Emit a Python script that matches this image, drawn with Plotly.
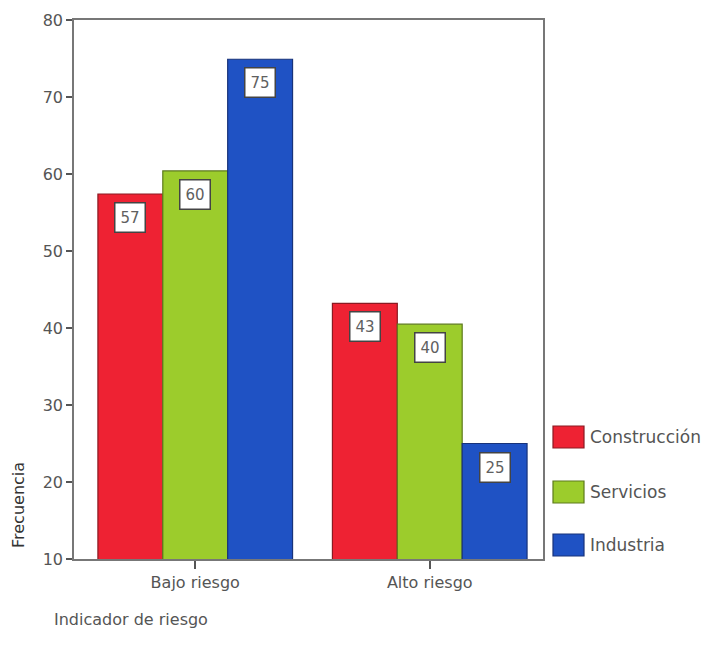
import plotly.graph_objects as go

categories = ["Bajo riesgo", "Alto riesgo"]
series_names = ["Construcción", "Servicios", "Industria"]
construccion = [57.4, 43.2]
servicios = [60.4, 40.5]
industria = [74.9, 25.0]
labels = [[57, 43], [60, 40], [75, 25]]
y_ticks = [10, 20, 30, 40, 50, 60, 70, 80]

values = [construccion, servicios, industria]
fills = ["#ee2233", "#9ccc2c", "#1f52c4"]
edges = ["#8a1a22", "#5d7a1c", "#18337a"]

FONT = "DejaVu Sans, Liberation Sans, Arial"
L, R, T, B = 74, 171, 20, 93
W, H = 714, 652
fig = go.Figure()
bargap = 0.17
for name, vals, fc, ec in zip(series_names, values, fills, edges):
    fig.add_trace(go.Bar(
        x=list(range(len(categories))), y=vals, name=name,
        marker=dict(color=fc, line=dict(color=ec, width=1.2)),
        showlegend=False,
    ))

annotations = []
bw = (1 - bargap) / len(series_names)
for j, (vals, labs) in enumerate(zip(values, labels)):
    for i, (v, lab) in enumerate(zip(vals, labs)):
        annotations.append(dict(
            x=i + (j - 1) * bw, y=v, xref="x", yref="y", text=str(lab),
            showarrow=False, yanchor="top", yshift=-8,
            font=dict(family=FONT, size=15, color="#606060"),
            bgcolor="white", bordercolor="#444444", borderwidth=1.5, borderpad=5,
        ))

# custom legend
pw = W - L - R
ph = H - T - B
leg_y = [437, 492, 545]
for name, fc, ec, yy in zip(series_names, fills, edges, leg_y):
    x0 = 553
    fig.add_shape(type="rect", xref="paper", yref="paper",
                  x0=(x0 - L) / pw, x1=(x0 + 31 - L) / pw,
                  y0=(H - B - (yy + 11)) / ph, y1=(H - B - (yy - 11)) / ph,
                  fillcolor=fc, line=dict(color=ec, width=1.2))
    annotations.append(dict(
        x=(x0 + 35 - L) / pw, y=(H - B - yy) / ph, xref="paper", yref="paper",
        text=name, showarrow=False, xanchor="left", yanchor="middle",
        font=dict(family=FONT, size=17, color="#555555")))

annotations.append(dict(
    x=(18 - L) / pw, y=(H - B - 505) / ph, xref="paper", yref="paper",
    text="Frecuencia", textangle=-90, showarrow=False,
    xanchor="center", yanchor="middle",
    font=dict(family=FONT, size=16, color="#333333")))
annotations.append(dict(
    x=(52 - L) / pw, y=(H - B - 619) / ph, xref="paper", yref="paper",
    text="Indicador de riesgo", showarrow=False, xanchor="left", yanchor="middle",
    font=dict(family=FONT, size=16, color="#555555")))

fig.update_layout(
    width=W, height=H, margin=dict(l=L, r=R, t=T, b=B),
    paper_bgcolor="white", plot_bgcolor="white",
    barmode="group", bargap=bargap, bargroupgap=0,
    annotations=annotations,
    font=dict(family=FONT, size=16, color="#555555"),
)
fig.update_xaxes(
    tickmode="array", tickvals=list(range(len(categories))), ticktext=categories,
    range=[-0.517, len(categories) - 0.517],
    showline=True, linecolor="#777777", linewidth=1.5, mirror=True,
    ticks="outside", ticklen=8, tickcolor="#555555", tickwidth=1.5,
    showgrid=False, zeroline=False, tickfont=dict(size=16),
)
fig.update_yaxes(
    range=[10, 80], tickvals=y_ticks,
    showline=True, linecolor="#777777", linewidth=1.5, mirror=True,
    ticks="outside", ticklen=6, tickcolor="#555555", tickwidth=2,
    showgrid=False, zeroline=False, tickfont=dict(size=16),
)
fig.write_html("out.html")
